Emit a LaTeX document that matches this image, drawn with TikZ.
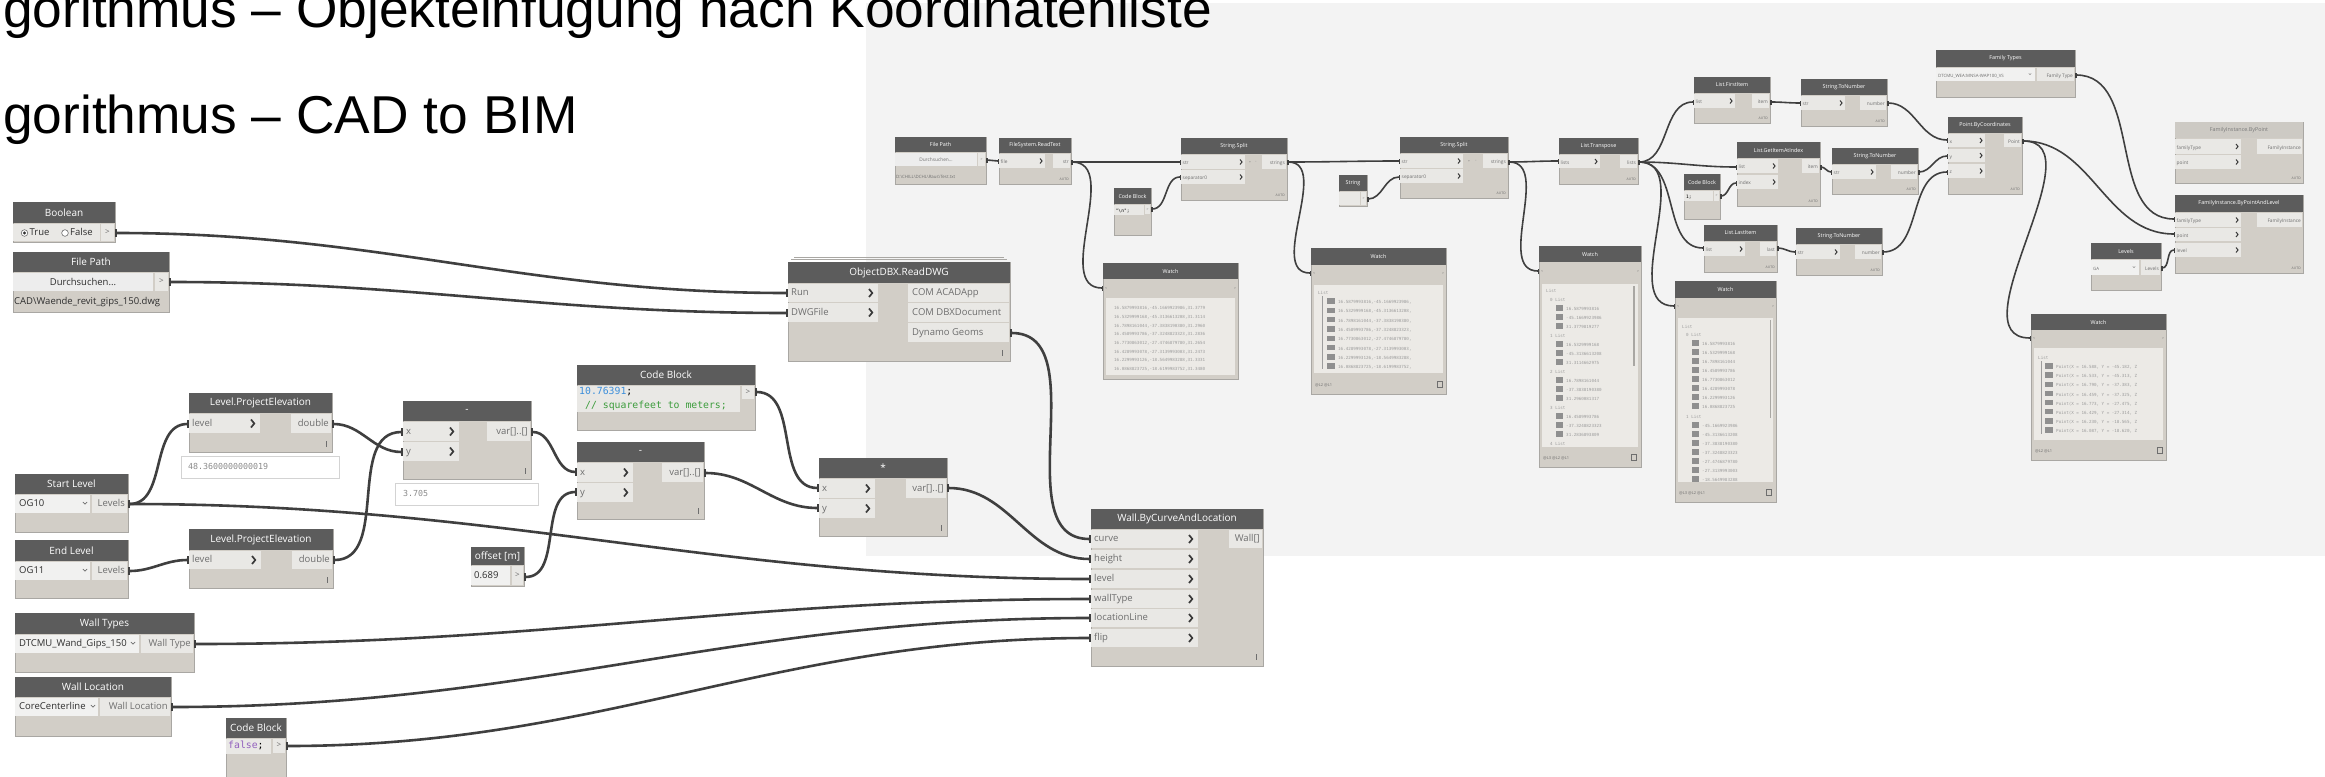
\documentclass[tikz,border=0pt]{standalone}
\usepackage{fontspec}
\setmainfont{Open Sans}
\newfontfamily\titlefont{Liberation Sans}
\newfontfamily\codefont{DejaVu Sans Mono}
\usetikzlibrary{arrows.meta}

\definecolor{canvas}{HTML}{F3F3F3}
\definecolor{headc}{HTML}{5C5C5C}
\definecolor{bodyc}{HTML}{D2CEC7}
\definecolor{cellc}{HTML}{E9E8E5}
\definecolor{ddc}{HTML}{F1F1F0}
\definecolor{btnc}{HTML}{EDEDED}
\definecolor{edgec}{HTML}{A9A7A3}
\definecolor{wirec}{HTML}{3F3F3F}
\definecolor{lblc}{HTML}{6E6E6E}
\definecolor{darkc}{HTML}{2E2E2E}
\definecolor{chevc}{HTML}{3A3A3A}
\definecolor{numblue}{HTML}{3D8FDB}
\definecolor{cmtgreen}{HTML}{3C9C3C}
\definecolor{kwpurple}{HTML}{9260BE}
\definecolor{wtxt}{HTML}{9C9C9C}
\definecolor{wbox}{HTML}{ECEAE6}
\definecolor{idxc}{HTML}{8F8F8F}
\definecolor{lighthead}{HTML}{CDCAC4}
\definecolor{lhtext}{HTML}{7A7A7A}
\definecolor{valedge}{HTML}{D3D3D3}

\tikzset{
  nbody/.style={fill=bodyc, draw=edgec, line width=0.7pt, inner sep=0pt, outer sep=0pt},
  nhead/.style={fill=headc, text=white, inner sep=0pt, outer sep=0pt, font=\fontsize{10}{12}\selectfont},
  shead/.style={font=\fontsize{5.4}{6.5}\selectfont},
  lhead/.style={fill=lighthead, text=lhtext},
  lbl/.style={text=lblc, inner sep=0pt, font=\fontsize{9.5}{11}\selectfont},
  slbl/.style={text=lblc, inner sep=0pt, font=\fontsize{4.8}{5.5}\selectfont},
  dtxt/.style={text=darkc, inner sep=0pt, font=\fontsize{9.5}{11}\selectfont},
  sdtxt/.style={text=darkc!70, inner sep=0pt, font=\fontsize{4.4}{5}\selectfont},
  code/.style={inner sep=0pt, font=\codefont\fontsize{9.8}{11}\selectfont},
  scode/.style={inner sep=0pt, font=\codefont\fontsize{4.6}{5}\selectfont},
  chevB/.style={draw=chevc, line width=1.7pt},
  chevS/.style={draw=chevc, line width=1pt},
  wire/.style={draw=wirec, line width=2.6pt, out=0, in=180,
    arrows={Rectangle[length=2.2pt,width=8pt]-Rectangle[length=2.2pt,width=8pt]}},
  swire/.style={draw=wirec, line width=1.6pt, out=0, in=180,
    arrows={Rectangle[length=1.5pt,width=5pt]-Rectangle[length=1.5pt,width=5pt]}},
  wt/.style={font=\codefont\fontsize{4.2}{5}\selectfont, text=wtxt, inner sep=0pt, anchor=mid west},
  valbox/.style={fill=white, draw=valedge, line width=0.8pt, inner sep=0pt},
  valtxt/.style={font=\codefont\fontsize{8.3}{10}\selectfont, text=lblc!80, inner sep=0pt, anchor=mid west},
  tinylbl/.style={font=\fontsize{3.4}{4}\selectfont, text=lblc, inner sep=0pt},
  foot/.style={font=\fontsize{4}{5}\selectfont, text=lblc, inner sep=0pt, anchor=mid west},
}

% node body + header
\newcommand\dn[8][]{%
  \pgfmathsetmacro\dnw{#5-#3}%
  \pgfmathsetmacro\dnh{#6-#4}%
  \pgfmathsetmacro\dnhh{#7-#4}%
  \node[nbody, minimum width=\dnw pt, minimum height=\dnh pt, anchor=north west] (#2) at (#3,#4) {};%
  \node[nhead, #1, minimum width=\dnw pt, minimum height=\dnhh pt, anchor=north west] (#2-h) at (#3,#4) {#8};%
}
% input / output rows, large and small
\newcommand\cinB[5]{%
  \fill[cellc] (#1,#2) rectangle (#3,#4);
  \node[lbl, anchor=mid west] at ({#1+3},{(#2+#4)/2}) {#5};
  \draw[chevB] ({#3-9},{(#2+#4)/2-4}) -- ++(3.3,4) -- ++(-3.3,4);
}
\newcommand\coutB[5]{%
  \fill[cellc] (#1,#2) rectangle (#3,#4);
  \node[lbl, anchor=mid east] at ({#3-2},{(#2+#4)/2}) {#5};
}
\newcommand\cinS[5]{%
  \fill[cellc] (#1,#2) rectangle (#3,#4);
  \node[slbl, anchor=mid west] at ({#1+1.5},{(#2+#4)/2}) {#5};
  \draw[chevS] ({#3-5},{(#2+#4)/2-2.5}) -- ++(2,2.5) -- ++(-2,2.5);
}
\newcommand\coutS[5]{%
  \fill[cellc] (#1,#2) rectangle (#3,#4);
  \node[slbl, anchor=mid east] at ({#3-1},{(#2+#4)/2}) {#5};
}
\newcommand\lacing[2]{\fill[lblc] (#1,#2) rectangle ++(1.3,6);}
\newcommand\autolbl[2]{\node[tinylbl, anchor=east] at (#1,#2) {AUTO};}
\newcommand\dropv[2]{\draw[lblc, line width=0.7pt] ({#1-2.2},{#2-1}) -- (#1,{#2+1.2}) -- ({#1+2.2},{#2-1});}
\newcommand\sdropv[2]{\draw[lblc, line width=0.4pt] ({#1-1.2},{#2-0.6}) -- (#1,{#2+0.6}) -- ({#1+1.2},{#2-0.6});}

\begin{document}
\begin{tikzpicture}[x=1pt,y=-1pt]
\useasboundingbox (0,0) rectangle (2325,776);
\fill[white] (0,0) rectangle (2325,776);
\fill[canvas] (866,3) rectangle (2325,556);

% ---------- titles ----------
\node[anchor=base west, inner sep=0pt, font=\titlefont\fontsize{53.3}{60}\selectfont] (title1) at (3,28)
  {gorithmus – Objekteinfügung nach Koordinatenliste};
\node[anchor=base west, inner sep=0pt, font=\titlefont\fontsize{53.3}{60}\selectfont] (title2) at (3,133)
  {gorithmus – CAD to BIM};

% =============== CAD to BIM graph ===============
% Boolean
\dn{bool}{13}{202}{115}{242}{223}{Boolean}
\fill[cellc] (13,224) rectangle (100,241);
\fill[cellc] (101,224) rectangle (114,241);
\draw[lblc, line width=0.6pt, fill=white] (24.5,233) circle (3.3);
\fill[darkc] (24.5,233) circle (1.7);
\node[dtxt, anchor=mid west] at (29.5,233) {True};
\draw[lblc, line width=0.6pt, fill=white] (65,233) circle (3.3);
\node[dtxt, anchor=mid west] at (70,233) {False};
\node[lbl, font=\fontsize{8}{9}\selectfont] at (107.5,232.5) {>};
\coordinate (bool-o) at (115,233);

% File Path
\dn{fpath}{13}{252}{169}{312}{272}{File Path}
\fill[btnc] (13,273) rectangle (153,291);
\node[dtxt] at (83,282) {Durchsuchen...};
\fill[cellc] (155,273) rectangle (168,291);
\node[lbl, font=\fontsize{8}{9}\selectfont] at (161.5,281.5) {>};
\node[dtxt, anchor=mid west] at (14,302) {CAD\textbackslash Waende\_revit\_gips\_150.dwg};
\coordinate (fpath-o) at (169,282);

% ObjectDBX.ReadDWG
\draw[edgec, line width=0.8pt] (794,257) -- (1004,257);
\draw[edgec, line width=0.8pt] (791,259.5) -- (1007,259.5);
\dn{odbx}{788}{262}{1010}{361}{283}{ObjectDBX.ReadDWG}
\cinB{788}{284}{878}{302}{Run}
\cinB{788}{303}{878}{322}{DWGFile}
\fill[cellc] (908,284) rectangle (1009,302);
\fill[cellc] (908,303) rectangle (1009,322);
\fill[cellc] (908,323) rectangle (1009,342);
\node[lbl, anchor=mid west] at (912,293) {COM ACADApp};
\node[lbl, anchor=mid west] at (912,312.5) {COM DBXDocument};
\node[lbl, anchor=mid west] at (912,332.5) {Dynamo Geoms};
\lacing{1002}{350}
\coordinate (odbx-run) at (788,293);
\coordinate (odbx-dwg) at (788,313);
\coordinate (odbx-geo) at (1010,333);

% Code Block (unit factor)
\dn{cb1}{577}{365}{755}{430}{385}{Code Block}
\fill[cellc] (577,386) rectangle (740,412);
\fill[cellc] (742,386) rectangle (754,399);
\node[lbl, font=\fontsize{8}{9}\selectfont] at (748,392) {>};
\node[code, anchor=mid west] at (579,392) {\textcolor{numblue}{10.76391};};
\node[code, anchor=mid west, text=cmtgreen] at (585,406) {// squarefeet to meters;};
\coordinate (cb1-o) at (755,392);

% Level.ProjectElevation (start)
\dn{lpe1}{189}{393}{332}{452}{413}{Level.ProjectElevation}
\cinB{189}{414}{260}{433}{level}
\coutB{291}{414}{331}{433}{double}
\lacing{326}{441}
\coordinate (lpe1-i) at (189,424);
\coordinate (lpe1-o) at (332,424);
\node[valbox, minimum width=158pt, minimum height=22pt, anchor=north west] (val1) at (181,456) {};
\node[valtxt] at (188,467) {48.3600000000019};

% Subtraction 1
\dn{min1}{403}{401}{531}{479}{421}{-}
\cinB{403}{422}{459}{441}{x}
\cinB{403}{442}{459}{461}{y}
\coutB{487}{422}{530}{441}{var[]..[]}
\lacing{525}{468}
\coordinate (min1-x) at (403,432);
\coordinate (min1-y) at (403,452);
\coordinate (min1-o) at (531,432);
\node[valbox, minimum width=143pt, minimum height=22pt, anchor=north west] (val2) at (395,483) {};
\node[valtxt] at (403,494) {3.705};

% Subtraction 2
\dn{min2}{577}{442}{704}{519}{462}{-}
\cinB{577}{463}{633}{482}{x}
\cinB{577}{483}{633}{502}{y}
\coutB{662}{463}{703}{482}{var[]..[]}
\lacing{698}{508}
\coordinate (min2-x) at (577,472);
\coordinate (min2-y) at (577,492);
\coordinate (min2-o) at (704,473);

% Multiplication
\dn{mul}{819}{458}{947}{536}{478}{*}
\cinB{819}{479}{875}{498}{x}
\cinB{819}{499}{875}{518}{y}
\coutB{906}{479}{946}{498}{var[]..[]}
\lacing{941}{525}
\coordinate (mul-x) at (819,488);
\coordinate (mul-y) at (819,508);
\coordinate (mul-o) at (947,488);

% Wall.ByCurveAndLocation
\dn{wall}{1091}{509}{1263}{666}{529}{Wall.ByCurveAndLocation}
\cinB{1091}{530}{1198}{548}{curve}
\cinB{1091}{550}{1198}{568}{height}
\cinB{1091}{570}{1198}{588}{level}
\cinB{1091}{590}{1198}{608}{wallType}
\cinB{1091}{609}{1198}{627}{locationLine}
\cinB{1091}{629}{1198}{647}{flip}
\coutB{1229}{530}{1262}{548}{Wall[]}
\lacing{1256}{654}
\coordinate (wall-c) at (1091,539);
\coordinate (wall-h) at (1091,559);
\coordinate (wall-l) at (1091,579);
\coordinate (wall-t) at (1091,599);
\coordinate (wall-ll) at (1091,618);
\coordinate (wall-f) at (1091,638);

% Start Level
\dn{slev}{15}{474}{128}{532}{494}{Start Level}
\fill[ddc] (15,495) rectangle (90,513);
\node[dtxt, anchor=mid west] at (19,504) {OG10};
\dropv{85}{503}
\coutB{92}{495}{127}{513}{Levels}
\coordinate (slev-o) at (128,504);

% End Level
\dn{elev}{15}{540}{128}{598}{561}{End Level}
\fill[ddc] (15,562) rectangle (90,580);
\node[dtxt, anchor=mid west] at (19,571) {OG11};
\dropv{85}{570}
\coutB{92}{562}{127}{580}{Levels}
\coordinate (elev-o) at (128,571);

% Level.ProjectElevation (end)
\dn{lpe2}{189}{529}{333}{588}{550}{Level.ProjectElevation}
\cinB{189}{551}{261}{569}{level}
\coutB{292}{551}{332}{569}{double}
\lacing{327}{577}
\coordinate (lpe2-i) at (189,560);
\coordinate (lpe2-o) at (333,560);

% offset [m]
\dn{off}{471}{547}{524}{586}{565}{offset [m]}
\fill[ddc] (471,566) rectangle (510,585);
\node[dtxt, anchor=mid west] at (474,576) {0.689};
\fill[cellc] (512,566) rectangle (523,585);
\node[lbl, font=\fontsize{8}{9}\selectfont] at (517.5,575.5) {>};
\coordinate (off-o) at (524,577);

% Wall Types
\dn{wtyp}{15}{613}{194}{672}{634}{Wall Types}
\fill[ddc] (15,635) rectangle (139,653);
\node[dtxt, anchor=mid west] at (19,644) {DTCMU\_Wand\_Gips\_150};
\dropv{133}{643}
\coutB{141}{635}{193}{653}{Wall Type}
\coordinate (wtyp-o) at (194,644);

% Wall Location
\dn{wloc}{15}{677}{171}{736}{697}{Wall Location}
\fill[ddc] (15,698) rectangle (98,716);
\node[dtxt, anchor=mid west] at (19,707) {CoreCenterline};
\dropv{93}{706}
\coutB{100}{698}{170}{716}{Wall Location}
\coordinate (wloc-o) at (171,707);

% Code Block (flip)
\dn{cb2}{226}{718}{286}{790}{738}{Code Block}
\fill[cellc] (226,739) rectangle (271,754);
\node[code, anchor=mid west] at (228,746) {\textcolor{kwpurple}{false};};
\fill[cellc] (273,739) rectangle (285,753);
\node[lbl, font=\fontsize{8}{9}\selectfont] at (279,745.5) {>};
\coordinate (cb2-o) at (286,746);

% =============== coordinate list graph ===============
% File Path
\dn[shead]{rfp}{895}{137}{986}{184}{152}{File Path}
\fill[btnc] (895,153) rectangle (977,166);
\node[slbl] at (936,159.5) {Durchsuchen...};
\fill[cellc] (978,153) rectangle (985,166);
\node[tinylbl] at (981.5,159.5) {>};
\node[sdtxt, anchor=mid west] at (896,176) {D:\textbackslash CHILL\textbackslash DCHL\textbackslash Raus\textbackslash Test.txt};
\coordinate (rfp-o) at (986,160);

% FileSystem.ReadText
\dn[shead]{rrt}{999}{138}{1071}{184}{153}{FileSystem.ReadText}
\cinS{999}{154}{1045}{168}{file}
\coutS{1053}{154}{1070}{168}{str}
\autolbl{1069}{179}
\coordinate (rrt-i) at (999,161);
\coordinate (rrt-o) at (1071,162);

% Code Block (line break)
\dn[shead]{rcb1}{1114}{188}{1151}{235}{204}{Code Block}
\fill[cellc] (1114,205) rectangle (1144,215);
\node[scode, anchor=mid west] at (1115.5,210) {"\textbackslash n";};
\fill[cellc] (1145,205) rectangle (1150,214);
\node[tinylbl] at (1147.5,209.5) {>};
\coordinate (rcb1-o) at (1151,209);

% String.Split 1
\dn[shead]{rss1}{1181}{138}{1287}{200}{154}{String.Split}
\cinS{1181}{155}{1245}{169}{str}
\node[tinylbl] at (1250,162) {+};
\node[tinylbl] at (1256,162) {-};
\coutS{1262}{155}{1286}{169}{strings}
\cinS{1181}{170}{1245}{184}{separator0}
\autolbl{1285}{195}
\coordinate (rss1-s) at (1181,162);
\coordinate (rss1-p) at (1181,177);
\coordinate (rss1-o) at (1287,162);

% String
\dn[shead]{rstr}{1339}{175}{1367}{206}{191}{String}
\fill[cellc] (1339,192) rectangle (1360,205);
\fill[cellc] (1361,192) rectangle (1366,205);
\node[tinylbl] at (1363.5,198.5) {>};
\coordinate (rstr-o) at (1367,199);

% String.Split 2
\dn[shead]{rss2}{1400}{137}{1508}{198}{153}{String.Split}
\cinS{1400}{154}{1463}{168}{str}
\node[tinylbl] at (1469,161) {+};
\node[tinylbl] at (1476,161) {-};
\coutS{1483}{154}{1507}{168}{strings}
\cinS{1400}{169}{1463}{183}{separator0}
\autolbl{1506}{193}
\coordinate (rss2-s) at (1400,161);
\coordinate (rss2-p) at (1400,177);
\coordinate (rss2-o) at (1508,162);

% List.Transpose
\dn[shead]{rlt}{1559}{138}{1638}{184}{154}{List.Transpose}
\cinS{1559}{155}{1600}{168}{lists}
\coutS{1620}{155}{1637}{168}{lists}
\autolbl{1636}{179}
\coordinate (rlt-i) at (1559,161);
\coordinate (rlt-o) at (1638,162);

% List.FirstItem
\dn[shead]{rfi}{1694}{77}{1770}{123}{93}{List.FirstItem}
\cinS{1694}{94}{1735}{108}{list}
\coutS{1752}{94}{1769}{108}{item}
\autolbl{1768}{118}
\coordinate (rfi-i) at (1694,102);
\coordinate (rfi-o) at (1770,102);

% String.ToNumber (x)
\dn[shead]{rtn1}{1801}{79}{1887}{126}{95}{String.ToNumber}
\cinS{1801}{96}{1845}{110}{str}
\coutS{1860}{96}{1886}{110}{number}
\autolbl{1885}{121}
\coordinate (rtn1-i) at (1801,103);
\coordinate (rtn1-o) at (1887,103);

% List.GetItemAtIndex
\dn[shead]{rgi}{1737}{142}{1820}{206}{158}{List.GetItemAtIndex}
\cinS{1737}{159}{1778}{173}{list}
\cinS{1737}{175}{1778}{189}{index}
\coutS{1802}{159}{1819}{173}{item}
\autolbl{1818}{201}
\coordinate (rgi-l) at (1737,167);
\coordinate (rgi-x) at (1737,183);
\coordinate (rgi-o) at (1820,167);

% Code Block (index)
\dn[shead]{rcb2}{1684}{174}{1720}{219}{190}{Code Block}
\fill[cellc] (1684,191) rectangle (1713,201);
\node[scode, anchor=mid west] at (1686,196) {1;};
\fill[cellc] (1714,191) rectangle (1719,201);
\node[tinylbl] at (1716.5,195.5) {>};
\coordinate (rcb2-o) at (1720,196);

% String.ToNumber (y)
\dn[shead]{rtn2}{1832}{148}{1918}{194}{164}{String.ToNumber}
\cinS{1832}{165}{1876}{179}{str}
\coutS{1891}{165}{1917}{179}{number}
\autolbl{1916}{189}
\coordinate (rtn2-i) at (1832,172);
\coordinate (rtn2-o) at (1918,172);

% List.LastItem
\dn[shead]{rli}{1704}{225}{1777}{272}{241}{List.LastItem}
\cinS{1704}{242}{1745}{256}{list}
\coutS{1760}{242}{1776}{256}{last}
\autolbl{1775}{267}
\coordinate (rli-i) at (1704,248);
\coordinate (rli-o) at (1777,248);

% String.ToNumber (z)
\dn[shead]{rtn3}{1796}{228}{1882}{275}{244}{String.ToNumber}
\cinS{1796}{245}{1840}{259}{str}
\coutS{1855}{245}{1881}{259}{number}
\autolbl{1880}{270}
\coordinate (rtn3-i) at (1796,252);
\coordinate (rtn3-o) at (1882,252);

% Point.ByCoordinates
\dn[shead]{rpt}{1948}{117}{2022}{194}{133}{Point.ByCoordinates}
\cinS{1948}{134}{1985}{147}{x}
\cinS{1948}{149}{1985}{162}{y}
\cinS{1948}{164}{1985}{178}{z}
\coutS{2004}{134}{2021}{147}{Point}
\autolbl{2020}{189}
\coordinate (rpt-x) at (1948,140);
\coordinate (rpt-y) at (1948,156);
\coordinate (rpt-z) at (1948,172);
\coordinate (rpt-o) at (2022,141);

% Family Types
\dn[shead]{rft}{1936}{50}{2075}{97}{67}{Family Types}
\fill[ddc] (1936,68) rectangle (2035,81);
\node[sdtxt, anchor=mid west] at (1938,74.5) {DTCMU\_WEA:MNSA-WAP100\_VS};
\sdropv{2030}{74}
\coutS{2037}{68}{2074}{81}{Family Type}
\coordinate (rft-o) at (2075,75);

% FamilyInstance.ByPoint (inactive)
\dn[shead,lhead]{rfbp}{2175}{122}{2303}{183}{138}{FamilyInstance.ByPoint}
\cinS{2175}{139}{2241}{154}{familyType}
\cinS{2175}{155}{2241}{169}{point}
\coutS{2257}{139}{2302}{154}{FamilyInstance}
\autolbl{2301}{178}

% FamilyInstance.ByPointAndLevel
\dn[shead]{rfbl}{2175}{195}{2303}{273}{212}{FamilyInstance.ByPointAndLevel}
\cinS{2175}{213}{2241}{227}{familyType}
\cinS{2175}{228}{2241}{241}{point}
\cinS{2175}{243}{2241}{257}{level}
\coutS{2257}{213}{2302}{227}{FamilyInstance}
\autolbl{2301}{268}
\coordinate (rfbl-t) at (2175,219);
\coordinate (rfbl-p) at (2175,234);
\coordinate (rfbl-l) at (2175,250);

% Levels
\dn[shead]{rlev}{2091}{243}{2161}{290}{259}{Levels}
\fill[ddc] (2091,260) rectangle (2139,275);
\node[sdtxt, anchor=mid west] at (2093,267.5) {GA};
\sdropv{2134}{267}
\coutS{2141}{260}{2160}{275}{Levels}
\coordinate (rlev-o) at (2161,268);

% ---------- Watch nodes ----------
% Watch 1 (raw text)
\dn[shead]{w1}{1103}{263}{1238}{379}{279}{Watch}
\node[tinylbl] at (1106,288) {<};
\node[tinylbl] at (1235,288) {>};
\fill[wbox] (1106,298) rectangle (1235,375);
\begin{scope}
\clip (1106,298) rectangle (1235,375);
\foreach \wl [count=\i from 0] in {
  {16.5879993816,-45.1669923986,31.3779},
  {16.5329999168,-45.3136613208,31.3114},
  {16.7898161044,-37.3838190380,31.2960},
  {16.4589993786,-37.3248823323,31.2836},
  {16.7730863012,-27.4746879780,31.2654},
  {16.4289993078,-27.3139993003,31.2473},
  {16.2299993126,-18.5649983288,31.3331},
  {16.0868823725,-18.6199983752,31.3480}}
  \node[wt] at (1114,{307+8.7*\i}) {\wl};
\end{scope}
\coordinate (w1-i) at (1103,288);

% Watch 2 (lines)
\dn[shead]{w2}{1311}{248}{1446}{394}{265}{Watch}
\node[tinylbl] at (1314,273) {<};
\node[tinylbl] at (1443,273) {>};
\fill[wbox] (1314,285) rectangle (1443,373);
\begin{scope}
\clip (1314,285) rectangle (1443,373);
\node[wt] at (1318,292) {List};
\draw[wtxt, line width=0.4pt] (1322,296) -- (1322,369);
\foreach \wl [count=\i from 0] in {
  {16.5879993816,-45.1669923986,},
  {16.5329999168,-45.3136613208,},
  {16.7898161044,-37.3838190380,},
  {16.4589993786,-37.3248823323,},
  {16.7730863012,-27.4746879780,},
  {16.4289993078,-27.3139993003,},
  {16.2299993126,-18.5649983288,},
  {16.0868823725,-18.6199983752,}}{
  \fill[idxc] (1327,{301+9.3*\i-2.7}) rectangle (1335,{301+9.3*\i+2.7});
  \node[wt] at (1338,{301+9.3*\i}) {\wl};
}
\end{scope}
\node[foot] at (1315,384) {@L2 @L1};
\draw[lblc, line width=0.4pt] (1437,381) rectangle (1442,387);
\coordinate (w2-i) at (1311,273);

% Watch 3 (transposed input)
\dn[shead]{w3}{1539}{246}{1641}{467}{262}{Watch}
\node[tinylbl] at (1542,271) {<};
\node[tinylbl] at (1638,271) {>};
\fill[wbox] (1542,284) rectangle (1638,447);
\begin{scope}
\clip (1542,284) rectangle (1638,447);
\node[wt] at (1546,290) {List};
\foreach \pa/\pb/\pc [count=\k from 0] in {
  16.5879993816/-45.1669923986/31.3779819277,
  16.5329999168/-45.3136613208/31.3114662975,
  16.7898161044/-37.3838190380/31.2960081317,
  16.4589993786/-37.3248823323/31.2836893809,
  16.7730863012/-27.4746879780/31.2654387021}{
  \pgfmathsetmacro\yy{299+36*\k}
  \node[wt] at (1550,\yy) {\k\ List};
  \foreach \v [count=\j] in {\pa,\pb,\pc}{
    \pgfmathsetmacro\yv{\yy+9*\j}
    \fill[idxc] (1556,{\yv-2.6}) rectangle (1563,{\yv+2.6});
    \node[wt] at (1566,\yv) {\v};
  }
}
\end{scope}
\fill[edgec] (1633,286) rectangle (1634.5,366);
\node[foot] at (1543,457) {@L3 @L2 @L1};
\draw[lblc, line width=0.4pt] (1631,454) rectangle (1636,460);
\coordinate (w3-i) at (1539,271);

% Watch 4 (transposed output)
\dn[shead]{w4}{1675}{281}{1776}{502}{298}{Watch}
\node[tinylbl] at (1678,306) {<};
\node[tinylbl] at (1773,306) {>};
\fill[wbox] (1678,318) rectangle (1773,482);
\begin{scope}
\clip (1678,318) rectangle (1773,482);
\node[wt] at (1682,326) {List};
\node[wt] at (1686,334) {0 List};
\foreach \v [count=\i from 0] in {16.5879993816,16.5329999168,16.7898161044,16.4589993786,
    16.7730863012,16.4289993078,16.2299993126,16.0868823725}{
  \fill[idxc] (1692,{343+9*\i-2.6}) rectangle (1699,{343+9*\i+2.6});
  \node[wt] at (1702,{343+9*\i}) {\v};
}
\node[wt] at (1686,416) {1 List};
\foreach \v [count=\i from 0] in {-45.1669923986,-45.3136613208,-37.3838190380,-37.3248823323,
    -27.4746879780,-27.3139993003,-18.5649983288}{
  \fill[idxc] (1692,{425+9*\i-2.6}) rectangle (1699,{425+9*\i+2.6});
  \node[wt] at (1702,{425+9*\i}) {\v};
}
\end{scope}
\fill[edgec] (1769.5,320) rectangle (1771,418);
\node[foot] at (1679,492) {@L3 @L2 @L1};
\draw[lblc, line width=0.4pt] (1766,489) rectangle (1771,495);
\coordinate (w4-i) at (1675,306);

% Watch 5 (points)
\dn[shead]{w5}{2031}{314}{2166}{460}{330}{Watch}
\node[tinylbl] at (2034,338) {<};
\node[tinylbl] at (2163,338) {>};
\fill[wbox] (2034,348) rectangle (2163,440);
\begin{scope}
\clip (2034,348) rectangle (2163,440);
\node[wt] at (2038,357) {List};
\draw[wtxt, line width=0.4pt] (2041,361) -- (2041,434);
\foreach \wl [count=\i from 0] in {
  {Point(X = 16.588, Y = -45.182, Z},
  {Point(X = 16.533, Y = -45.313, Z},
  {Point(X = 16.790, Y = -37.383, Z},
  {Point(X = 16.459, Y = -37.325, Z},
  {Point(X = 16.773, Y = -27.475, Z},
  {Point(X = 16.429, Y = -27.314, Z},
  {Point(X = 16.230, Y = -18.565, Z},
  {Point(X = 16.087, Y = -18.620, Z}}{
  \fill[idxc] (2045,{366+9.15*\i-2.7}) rectangle (2053,{366+9.15*\i+2.7});
  \node[wt] at (2056,{366+9.15*\i}) {\wl};
}
\end{scope}
\node[foot] at (2035,450) {@L2 @L1};
\draw[lblc, line width=0.4pt] (2157,447) rectangle (2162,453);
\coordinate (w5-i) at (2031,338);

% ---------- connectors: CAD to BIM ----------
\draw[wire] (bool-o) to (odbx-run);
\draw[wire] (fpath-o) to (odbx-dwg);
\draw[wire] (odbx-geo) to (wall-c);
\draw[wire] (cb1-o) to (mul-x);
\draw[wire] (min2-o) to (mul-y);
\draw[wire] (mul-o) to (wall-h);
\draw[wire] (slev-o) to (lpe1-i);
\draw[wire] (slev-o) to (wall-l);
\draw[wire] (elev-o) to (lpe2-i);
\draw[wire] (lpe1-o) to (min1-y);
\draw[wire] (lpe2-o) to (min1-x);
\draw[wire] (min1-o) to (min2-x);
\draw[wire] (off-o) to (min2-y);
\draw[wire] (wtyp-o) to (wall-t);
\draw[wire] (wloc-o) to (wall-ll);
\draw[wire] (cb2-o) to (wall-f);

% ---------- connectors: coordinate list ----------
\draw[swire] (rfp-o) to (rrt-i);
\draw[swire] (rrt-o) to (rss1-s);
\draw[swire] (rrt-o) to (w1-i);
\draw[swire] (rcb1-o) to (rss1-p);
\draw[swire] (rss1-o) to (rss2-s);
\draw[swire] (rss1-o) to (w2-i);
\draw[swire] (rstr-o) to (rss2-p);
\draw[swire] (rss2-o) to (rlt-i);
\draw[swire] (rss2-o) to (w3-i);
\draw[swire] (rlt-o) to (rfi-i);
\draw[swire] (rlt-o) to (rgi-l);
\draw[swire] (rlt-o) to (rli-i);
\draw[swire] (rlt-o) to (w4-i);
\draw[swire] (rcb2-o) to (rgi-x);
\draw[swire] (rfi-o) to (rtn1-i);
\draw[swire] (rgi-o) to (rtn2-i);
\draw[swire] (rli-o) to (rtn3-i);
\draw[swire] (rtn1-o) to (rpt-x);
\draw[swire] (rtn2-o) to (rpt-y);
\draw[swire] (rtn3-o) to (rpt-z);
\draw[swire] (rpt-o) to (rfbl-p);
\draw[swire] (rpt-o) to (w5-i);
\draw[swire] (rft-o) to (rfbl-t);
\draw[swire] (rlev-o) to (rfbl-l);
\end{tikzpicture}
\end{document}
